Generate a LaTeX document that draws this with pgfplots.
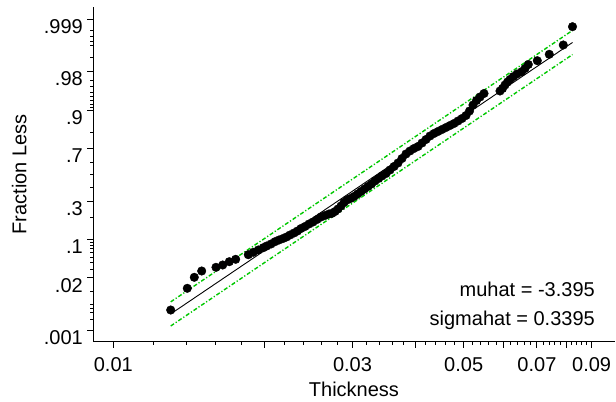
\documentclass[border=0pt]{standalone}
\usepackage{fontspec}
\setmainfont{Liberation Sans}
\usepackage{pgfplots}
\pgfplotsset{compat=1.18}
\definecolor{bandgreen}{RGB}{0,200,0}
\newcommand{\fs}{\fontsize{20bp}{24bp}\selectfont}
\begin{document}
\begin{tikzpicture}
\useasboundingbox (0,0) rectangle (616bp,402bp);
\begin{axis}[
  at={(93.3bp,60.3bp)}, anchor=south west,
  scale only axis, width=521.3bp, height=335bp,
  xmode=log, xmin=0.009122, xmax=0.1, ymin=-3.322, ymax=3.342,
  axis x line*=bottom, axis y line*=left,
  axis line style={black, line width=1.5bp},
  tick style={black, line width=0.9bp},
  tick align=outside,
  major tick length=6bp, minor tick length=3.2bp,
  xtick={0.01,0.02,0.03,0.04,0.05,0.06,0.07,0.08,0.09},
  xticklabels={0.01,{},0.03,{},0.05,{},0.07,{},0.09},
  minor xtick={0.012,0.014,0.016,0.018,0.022,0.024,0.026,0.028,0.032,0.034,0.036,0.038,0.042,0.044,0.046,0.048,0.052,0.054,0.056,0.058,0.062,0.064,0.066,0.068,0.072,0.074,0.076,0.078,0.082,0.084,0.086,0.088},
  ytick={-3.0902,-2.0537,-1.2816,-0.5244,0.5244,1.2816,2.0537,3.0902},
  yticklabels={.001,.02,.1,.3,.7,.9,.98,.999},
  minor ytick={-2.8782,-2.7478,-2.6521,-2.5758,-2.3263,-1.8808,-1.7507,-1.6449,-1.5548,-1.4758,-1.4051,-1.3408,-0.8416,-0.2533,0,0.2533,0.8416,1.3408,1.4051,1.4758,1.5548,1.6449,1.7507,1.8808,2.3263,2.5758,2.6521,2.7478,2.8782},
  tick label style={font=\fs},
  xticklabel shift=6bp,
  yticklabel style={anchor=north east, inner ysep=0pt},
  yticklabel shift=1bp,
  xlabel={Thickness}, ylabel={Fraction Less},
  every axis x label/.style={at={(axis description cs:0.5,0)}, anchor=center, yshift=-48bp, font=\fs},
  every axis y label/.style={at={([xshift=-74bp]axis description cs:0,0.5)}, anchor=center, rotate=90, font=\fs},
  clip=false,
]
\addplot[only marks, mark=*, mark size=4.3bp, black] coordinates {
(0.013017,-2.6915) (0.014048,-2.2598) (0.014507,-2.0410) (0.015009,-1.9157)
(0.016028,-1.8421) (0.016529,-1.7963) (0.017038,-1.7307) (0.017546,-1.6829)
(0.018592,-1.5914) (0.019023,-1.5437) (0.019466,-1.4979) (0.019918,-1.4522)
(0.020231,-1.4183) (0.020635,-1.3786) (0.021018,-1.3328) (0.021407,-1.2990)
(0.021804,-1.2692) (0.022158,-1.2393) (0.022517,-1.1995) (0.022934,-1.1597)
(0.023306,-1.1200) (0.023684,-1.0702) (0.024123,-1.0304) (0.024570,-0.9807)
(0.025026,-0.9409) (0.025490,-0.8912) (0.025963,-0.8415) (0.026444,-0.8116)
(0.026934,-0.7818) (0.027308,-0.7679) (0.027687,-0.7320) (0.028072,-0.6823)
(0.028461,-0.6226) (0.028856,-0.5530) (0.029256,-0.5033) (0.029730,-0.4734)
(0.030212,-0.4337) (0.030701,-0.3839) (0.031199,-0.3342) (0.031705,-0.2845)
(0.032218,-0.2347) (0.032741,-0.1850) (0.033272,-0.1253) (0.033811,-0.0756)
(0.034359,-0.0259) (0.034996,0.0239) (0.035645,0.0935) (0.036306,0.1631)
(0.036979,0.2327) (0.037665,0.3223) (0.038363,0.4118) (0.039074,0.4715)
(0.039799,0.5212) (0.040537,0.5610) (0.041289,0.6306) (0.042055,0.7002)
(0.042835,0.7698) (0.043629,0.8196) (0.044438,0.8594) (0.045262,0.8992)
(0.046101,0.9389) (0.046956,0.9787) (0.047827,1.0185) (0.048714,1.0682)
(0.049617,1.1180) (0.050537,1.1776) (0.051356,1.2672) (0.052188,1.3865)
(0.053034,1.4760) (0.053894,1.5457) (0.054893,1.6153) (0.059079,1.6650)
(0.059762,1.7148) (0.060452,1.7844) (0.061150,1.8440) (0.061856,1.8938)
(0.062801,1.9495) (0.063878,2.0032) (0.065272,2.0489) (0.066269,2.1126)
(0.067281,2.1922) (0.070122,2.2678) (0.074095,2.3951) (0.079017,2.5801)
(0.082428,2.9441)
};
\addplot[black, line width=0.9bp] coordinates {(0.013017,-2.77) (0.082428,2.63)};
\addplot[bandgreen, line width=1.4bp, dash pattern=on 4bp off 2bp on 1.2bp off 2bp] coordinates {(0.013017,-2.53) (0.082428,2.87)};
\addplot[bandgreen, line width=1.4bp, dash pattern=on 4bp off 2bp on 1.2bp off 2bp] coordinates {(0.013017,-3.01) (0.082428,2.39)};
\node[anchor=base east, font=\fs, inner sep=0pt] at (rel axis cs:0.9624,0.1343) {muhat = -3.395};
\node[anchor=base east, font=\fs, inner sep=0pt] at (rel axis cs:0.9624,0.0484) {sigmahat = 0.3395};
\end{axis}
\end{tikzpicture}
\end{document}
